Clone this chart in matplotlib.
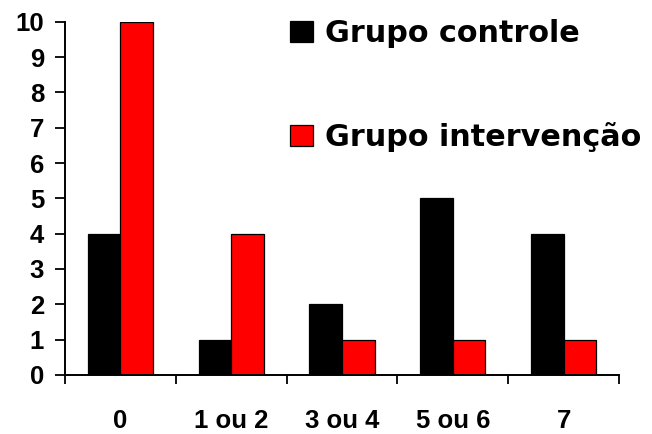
import matplotlib
matplotlib.use("Agg")
import matplotlib.pyplot as plt
import numpy as np

plt.rcParams['font.family'] = ['Liberation Sans', 'DejaVu Sans']
plt.rcParams['font.weight'] = 'bold'

categories = ["0", "1 ou 2", "3 ou 4", "5 ou 6", "7"]
controle = [4, 1, 2, 5, 4]
intervencao = [10, 4, 1, 1, 1]

fig = plt.figure(figsize=(6.52, 4.34), dpi=100)
ax = fig.add_axes([0.0997, 0.136, 0.8497, 0.814])

x = np.arange(len(categories))
w = 0.295
ax.bar(x - w / 2, controle, w, color="black", edgecolor="black", linewidth=0.9, label="Grupo controle")
ax.bar(x + w / 2, intervencao, w, color="#ff0000", edgecolor="black", linewidth=0.9, label="Grupo intervenção")

ax.set_xlim(-0.5, len(categories) - 0.5)
ax.set_ylim(0, 10)
ax.set_yticks(range(0, 11))
ax.tick_params(axis="y", labelsize=18.5, length=7, width=1.3, pad=8)

# category boundaries get the tick marks, names sit between them
ax.set_xticks(np.arange(-0.5, len(categories)), labels=[])
ax.set_xticks(x, labels=categories, minor=True)
ax.tick_params(axis="x", which="major", length=6.5, width=1.3, direction="out")
ax.tick_params(axis="x", which="minor", length=0, labelsize=18.5, pad=24.5)

for s in ["top", "right"]:
    ax.spines[s].set_visible(False)
for s in ["left", "bottom"]:
    ax.spines[s].set_linewidth(1.4)

ax.legend(loc="upper left", bbox_to_anchor=(0.445, 0.956), bbox_transform=fig.transFigure,
          frameon=False, prop={"family": "DejaVu Sans", "size": 21.8, "weight": "bold"},
          handlelength=0.76, handleheight=0.73, handletextpad=0.39, labelspacing=2.44,
          borderpad=0, borderaxespad=0)

fig.savefig("out.png", dpi=100)
